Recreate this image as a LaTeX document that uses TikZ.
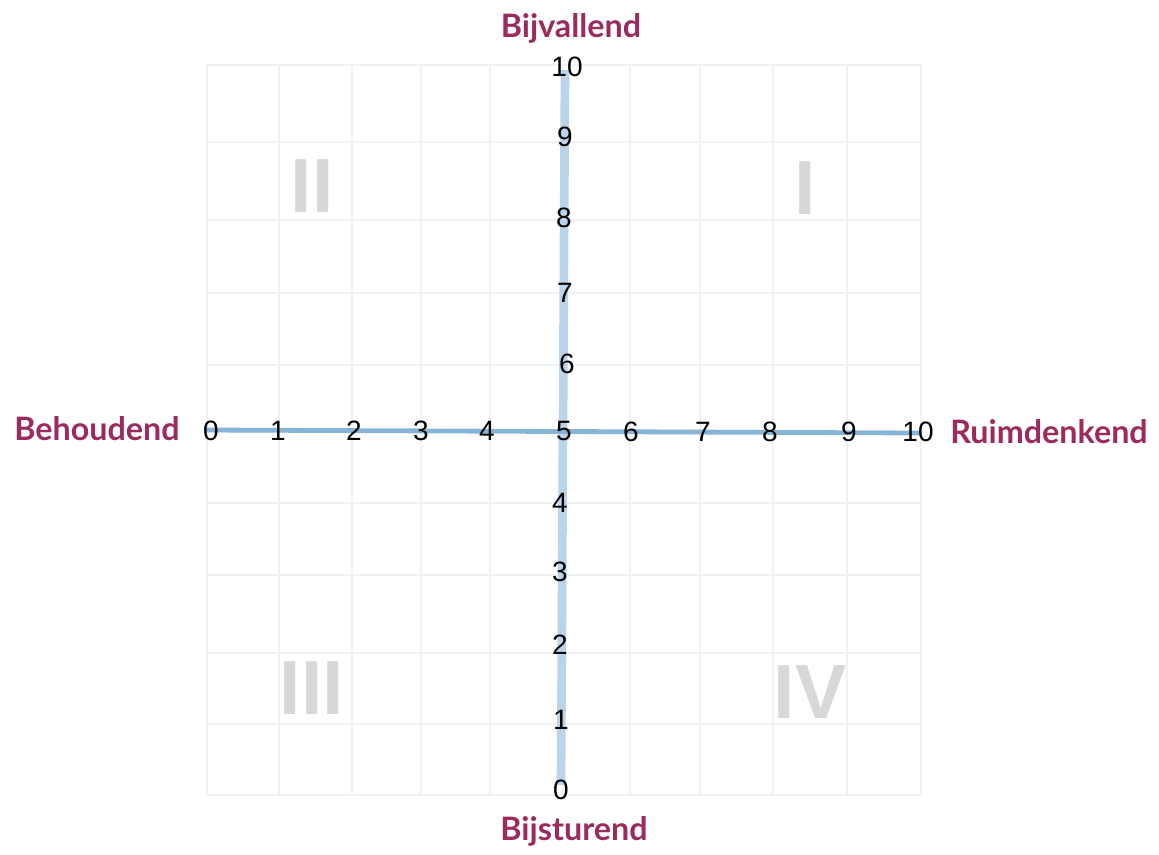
\documentclass[tikz,border=0pt]{standalone}
\usepackage{fontspec}
\setmainfont{Liberation Sans}
\newfontfamily\latob{Lato}[UprightFont=* Bold]
\definecolor{labc}{HTML}{9B2A5E}
\definecolor{gridc}{HTML}{F0F3F5}
\definecolor{vaxis}{HTML}{BAD4EC}
\definecolor{haxis}{HTML}{86B4D6}
\definecolor{romc}{HTML}{D8D8D8}
\begin{document}
\begin{tikzpicture}[x=0.75pt,y=-0.75pt,
  num/.style={inner sep=0pt,font=\fontsize{21}{22}\selectfont,text=black},
  axlab/.style={inner sep=0pt,font=\latob\fontsize{24.2}{26}\selectfont,text=labc},
  roman/.style={inner sep=0pt,font=\bfseries\fontsize{57.6}{60}\selectfont,text=romc},
  gridline/.style={draw=gridc,line width=1pt}]
\useasboundingbox[fill=white] (0,0) rectangle (1159,855);
% grid
\foreach \x in {207,279,352,421,490,563,630,700,773,847,921}
  \draw[gridline] (\x,65) -- (\x,795);
\foreach \y in {65,142,220,293,365,432,503,575,653,724,795}
  \draw[gridline] (207,\y) -- (921,\y);
% roman numerals
\node[roman] (qII) at (312,186) {II};
\node[roman] (qI) at (805,188) {I};
\node[roman] (qIII) at (312,688) {III};
\node[roman] (qIV) at (810,692) {IV};
% axes
\coordinate (vtop) at (565,70);
\coordinate (vbot) at (561,785);
\coordinate (hl) at (205,430);
\coordinate (hr) at (920,433);
\draw[vaxis,line width=6.5pt] (vtop) -- (vbot);
\draw[haxis,line width=3.6pt] (hl) -- (hr);
% horizontal numbers
\node[num] (h0) at (211,431) {0};
\node[num] (h1) at (278,431) {1};
\node[num] (h2) at (354,431) {2};
\node[num] (h3) at (421,431) {3};
\node[num] (h4) at (487,431) {4};
\node[num] (h5) at (564,431) {5};
\node[num] (h6) at (631,432) {6};
\node[num] (h7) at (703,432) {7};
\node[num] (h8) at (770,432) {8};
\node[num] (h9) at (849,432) {9};
\node[num] (h10) at (918,432) {10};
% vertical numbers
\node[num] (v10) at (567,67) {10};
\node[num] (v9) at (565,137) {9};
\node[num] (v8) at (564,218) {8};
\node[num] (v7) at (565,293) {7};
\node[num] (v6) at (567,364) {6};
\node[num] (v4) at (560,503) {4};
\node[num] (v3) at (560,572) {3};
\node[num] (v2) at (560,645) {2};
\node[num] (v1) at (561,720) {1};
\node[num] (v0) at (561,790) {0};
% axis labels
\node[axlab,anchor=base] (top) at (571,38) {Bijvallend};
\node[axlab,anchor=base] (bottom) at (574,840) {Bijsturend};
\node[axlab,anchor=base west] (left) at (14,440) {Behoudend};
\node[axlab,anchor=base west] (right) at (950,443) {Ruimdenkend};
\end{tikzpicture}
\end{document}
